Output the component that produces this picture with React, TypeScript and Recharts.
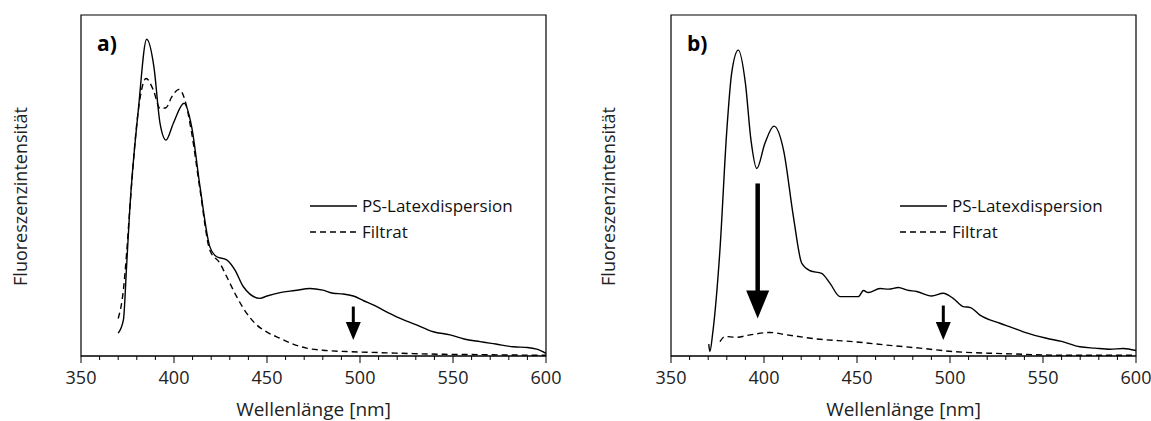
import React from 'react';
import { LineChart, Line, XAxis, YAxis, ReferenceArea, ReferenceLine, Legend, Label } from 'recharts';

// wavelength axis
const xTicks = [350, 360, 370, 380, 390, 400, 410, 420, 430, 440, 450, 460, 470, 480, 490, 500, 510, 520, 530, 540, 550, 560, 570, 580, 590, 600];

// panel a) PS-Latexdispersion (solid)
const waveSolidA = [370, 372.8, 374.5, 376.3, 380.8, 385.3, 389.2, 392.5, 395.7, 399.6, 405.4, 409.5, 414, 419.3, 423, 428.3, 432.8, 437.3, 446.2, 450, 457, 465, 473.1, 480, 485.6, 491, 496.4, 502, 507.1, 513, 519.7, 530, 539.4, 548.4, 556, 564.5, 573, 582.4, 590, 595, 600];
const intSolidA = [6.7, 10.6, 26.2, 43.7, 72, 92.9, 84.8, 68.2, 63.3, 68.2, 74.1, 67.2, 49.6, 32, 29.1, 28.2, 25.2, 20.3, 16.9, 17.6, 18.6, 19.2, 19.8, 19.3, 18.4, 18.2, 17.6, 16.2, 15, 13.3, 11.5, 9.2, 7.1, 6.2, 5, 4.2, 3.5, 2.7, 2.5, 2, 0.8];

// panel a) Filtrat (dashed)
const waveDashA = [370, 372.8, 374.5, 376.3, 380.8, 385, 388.9, 392.5, 395.7, 398.8, 402.7, 405.9, 409.5, 414, 419.3, 424.7, 428.3, 433.7, 439.1, 444.5, 450, 457, 464, 471.3, 480, 492.8, 510, 528.6, 545, 564.5, 580, 600];
const intDashA = [11, 19.4, 30, 43.7, 72, 81.4, 78, 72.6, 72.8, 76, 78.2, 75, 65.4, 48.7, 31, 27.2, 23.3, 17.4, 12.5, 9.1, 7, 5.2, 3.5, 2.3, 1.7, 1.3, 1, 0.7, 0.5, 0.4, 0.3, 0.2];

// panel b) PS-Latexdispersion (solid)
const waveSolidB = [370.3, 370.9, 372.4, 376.3, 379.9, 382.6, 386.2, 390, 393, 396.1, 400.5, 405.4, 410.5, 415.8, 420.3, 424.8, 431, 435.5, 440.9, 450.7, 453.5, 456, 462.4, 467, 472.2, 477, 482.1, 490.1, 496.4, 501.7, 507.1, 511, 516.1, 526.8, 533, 539.4, 551.9, 560, 569.8, 578, 586, 593.2, 600];
const intSolidB = [3.5, 1.3, 6.6, 31, 65.3, 82.9, 89.7, 80, 63.3, 55, 62.4, 67.4, 60.4, 40.9, 27.2, 25, 24.2, 21.3, 17.4, 17.4, 19.2, 18.6, 19.8, 19.6, 20.1, 19.3, 18.9, 17.6, 18.4, 16.9, 14.5, 14.2, 12, 9.6, 8.4, 7.1, 5.2, 4.3, 2.7, 2.3, 2, 2.2, 1.6];

// panel b) Filtrat (dashed)
const waveDashB = [376.3, 379, 385.3, 392.5, 403.2, 412.2, 430.1, 448, 465.9, 483.8, 501.7, 528.6, 564.5, 600];
const intDashB = [4.2, 5.7, 5.5, 6.2, 6.9, 6.2, 4.9, 4.2, 3.2, 2.3, 1.3, 0.7, 0.2, 0.2];

// arrows: wavelength, start and end intensity
const arrowsA = [{ x: 496.4, from: 14.5, to: 4.7, kind: 'small' }];
const arrowsB = [
  { x: 396.6, from: 50.6, to: 11, kind: 'large' },
  { x: 496.4, from: 14.8, to: 4.7, kind: 'small' },
];

const seriesNames = ['PS-Latexdispersion', 'Filtrat'];

const zip = (xs: number[], ys: number[]) => xs.map((x, i) => ({ x, y: ys[i] }));

const FONT = '"Open Sans", "Noto Sans", sans-serif';
const DASH = '6 4';

const arrowStyle: Record<string, { head: number; half: number; shaft: number }> = {
  small: { head: 18, half: 7.5, shaft: 3 },
  large: { head: 28, half: 11.5, shaft: 4.5 },
};

const makeArrow = (kind: string) => (props: any) => {
  const { x1, y1, y2 } = props;
  const s = arrowStyle[kind];
  const yh = y2 - s.head;
  return (
    <g>
      <line x1={x1} x2={x1} y1={y1} y2={yh + 2} stroke="#000" strokeWidth={s.shaft} />
      <path d={`M${x1 - s.half},${yh} L${x1 + s.half},${yh} L${x1},${y2} Z`} fill="#000" />
    </g>
  );
};

const AxisTick = (props: any) => {
  const { x, y, payload } = props;
  const major = payload.value % 50 === 0;
  return (
    <g>
      <line x1={x} x2={x} y1={y} y2={y + (major ? 7 : 4)} stroke="#000" strokeWidth={1} />
      {major && (
        <text x={x} y={y + 28} textAnchor="middle" fontSize={18} fontFamily={FONT} fill="#222">
          {payload.value}
        </text>
      )}
    </g>
  );
};

const LegendBox = () => (
  <div style={{ fontFamily: FONT, fontSize: 17, color: '#111', lineHeight: '26px' }}>
    {seriesNames.map((name, i) => (
      <div key={name} style={{ display: 'flex', alignItems: 'center', whiteSpace: 'nowrap' }}>
        <svg width={48} height={10} style={{ marginRight: 4, flexShrink: 0 }}>
          <line x1={0} x2={47} y1={5} y2={5} stroke="#000" strokeWidth={1.3} strokeDasharray={i === 1 ? DASH : undefined} />
        </svg>
        <span>{name}</span>
      </div>
    ))}
  </div>
);

interface PanelProps {
  tag: string;
  solid: { x: number; y: number }[];
  dashed: { x: number; y: number }[];
  arrows: { x: number; from: number; to: number; kind: string }[];
  width: number;
  marginRight: number;
  yLabelX: number;
}

const Panel = ({ tag, solid, dashed, arrows, width, marginRight, yLabelX }: PanelProps) => (
  <LineChart width={width} height={421} margin={{ top: 15, right: marginRight, bottom: 5, left: 0 }}>
    <XAxis
      type="number"
      dataKey="x"
      domain={[350, 600]}
      ticks={xTicks}
      interval={0}
      allowDataOverflow
      tickSize={0}
      tickMargin={0}
      tickLine={false}
      tick={<AxisTick />}
      axisLine={{ stroke: '#000' }}
      height={60}
      label={{
        content: (p: any) => (
          <text x={p.viewBox.x + p.viewBox.width / 2} y={p.viewBox.y + 60} textAnchor="middle" fontSize={19} fontFamily={FONT} fill="#222">
            Wellenlänge [nm]
          </text>
        ),
      }}
    />
    <YAxis
      type="number"
      domain={[0, 100]}
      allowDataOverflow
      width={81}
      tick={false}
      tickLine={false}
      axisLine={false}
      label={{
        content: (p: any) => {
          const cx = yLabelX;
          const cy = p.viewBox.y + p.viewBox.height / 2 + 11;
          return (
            <text x={cx} y={cy} transform={`rotate(-90, ${cx}, ${cy})`} textAnchor="middle" dominantBaseline="central" fontSize={18} fontFamily={FONT} fill="#222">
              Fluoreszenzintensität
            </text>
          );
        },
      }}
    />
    <ReferenceArea x1={350} x2={600} y1={0} y2={100} fill="none" stroke="#000" strokeWidth={1.2} ifOverflow="visible">
      <Label position="insideTopLeft" offset={16} content={(p: any) => (
        <text x={p.viewBox.x + 16} y={p.viewBox.y + 36} fontSize={21} fontWeight="bold" fontFamily={FONT} fill="#000">
          {tag}
        </text>
      )} />
    </ReferenceArea>
    <Line data={solid} dataKey="y" name={seriesNames[0]} type="monotone" stroke="#000" strokeWidth={1.4} dot={false} isAnimationActive={false} />
    <Line data={dashed} dataKey="y" name={seriesNames[1]} type="monotone" stroke="#000" strokeWidth={1.4} strokeDasharray={DASH} dot={false} isAnimationActive={false} />
    {arrows.map((a, i) => (
      <ReferenceLine
        key={i}
        segment={[{ x: a.x, y: a.from }, { x: a.x, y: a.to }]}
        stroke="#000"
        ifOverflow="visible"
        shape={makeArrow(a.kind)}
      />
    ))}
    <Legend
      layout="horizontal"
      verticalAlign="middle"
      align="center"
      content={<LegendBox />}
      wrapperStyle={{ left: 310, top: 193, width: 250, height: 60 }}
    />
  </LineChart>
);

export default function App() {
  return (
    <div style={{ position: 'absolute', left: 0, top: 0, width: 1151, height: 421, background: '#fff', fontFamily: FONT }}>
      <div style={{ position: 'absolute', left: 0, top: 0 }}>
        <Panel tag="a)" solid={zip(waveSolidA, intSolidA)} dashed={zip(waveDashA, intDashA)} arrows={arrowsA} width={575} marginRight={29} yLabelX={20} />
      </div>
      <div style={{ position: 'absolute', left: 590, top: 0 }}>
        <Panel tag="b)" solid={zip(waveSolidB, intSolidB)} dashed={zip(waveDashB, intDashB)} arrows={arrowsB} width={561} marginRight={15} yLabelX={18} />
      </div>
    </div>
  );
}
